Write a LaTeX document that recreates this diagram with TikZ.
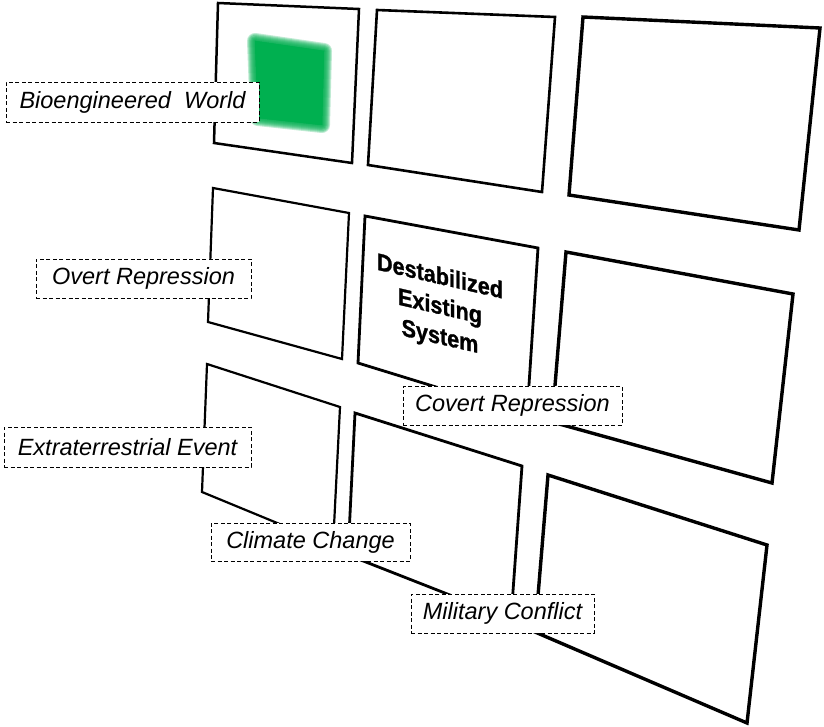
\documentclass[tikz,border=0pt]{standalone}
\usepackage{fontspec}
\setsansfont{Liberation Sans}
\newfontfamily\destf[FakeBold=1.2]{Liberation Sans}
\definecolor{greenc}{RGB}{0,176,80}
\begin{document}
\begin{tikzpicture}[x=1pt,y=-1pt,
  panel/.style={draw=black, fill=white, line join=miter},
  lbl/.style={draw=black, fill=white, dash pattern=on 4pt off 2.5pt, line width=0.8pt, inner sep=0pt, anchor=center, font=\sffamily\itshape\fontsize{23.5}{28}\selectfont},
  destfont/.style={align=center, font=\destf\bfseries\fontsize{24}{30}\selectfont}
]
\useasboundingbox (0,0) rectangle (824,727);
% top row
\draw[panel, line width=2.5pt] (218,3) -- (359,9) -- (352,163) -- (214,143) -- cycle;
\draw[panel, line width=2.6pt] (377,10) -- (555,17) -- (542,192) -- (368,165) -- cycle;
\draw[panel, line width=3.4pt] (583,17) -- (820,28) -- (799,230) -- (569,195) -- cycle;
% middle row
\draw[panel, line width=2.2pt] (213,188) -- (349,213) -- (342,359) -- (208,322) -- cycle;
\draw[panel, line width=2.8pt] (365,216) -- (538,248) -- (527,415) -- (358,363) -- cycle;
\draw[panel, line width=3.4pt] (566,252) -- (793,294) -- (772,483) -- (552,422) -- cycle;
% bottom row
\draw[panel, line width=2.2pt] (207,364) -- (340,407) -- (333,546) -- (202,492) -- cycle;
\draw[panel, line width=2.8pt] (355,413) -- (522,466) -- (511,619) -- (348,555) -- cycle;
\draw[panel, line width=3.4pt] (548,475) -- (767,545) -- (747,723) -- (535,632) -- cycle;
% green blurred square
\foreach \w in {16,14,12,10,8,6,4,2}
  \filldraw[greenc, opacity=0.25, line width=\w pt, line join=round] (255,41) -- (324,51) -- (322,125) -- (258,118) -- cycle;
\fill[greenc] (255,41) -- (324,51) -- (322,125) -- (258,118) -- cycle;
% central text
\begin{scope}[shift={(440,308)}, yslant=-0.23, transform shape]
  \node[destfont, xscale=0.9] (dest) {Destabilized\\Existing\\System};
\end{scope}
% labels
\node[lbl, minimum width=253pt, minimum height=40pt] (bio) at (132.5,102) {Bioengineered\ \ World};
\node[lbl, minimum width=215pt, minimum height=39pt] (overt) at (143.5,278.5) {Overt Repression};
\node[lbl, minimum width=247pt, minimum height=40pt] (extra) at (127.5,447) {Extraterrestrial Event};
\node[lbl, minimum width=199pt, minimum height=38pt] (climate) at (310.5,542) {Climate Change};
\node[lbl, minimum width=219pt, minimum height=39pt] (covert) at (512.5,405.5) {Covert Repression};
\node[lbl, minimum width=183pt, minimum height=39pt] (military) at (502.5,613.5) {Military Conflict};
\end{tikzpicture}
\end{document}
